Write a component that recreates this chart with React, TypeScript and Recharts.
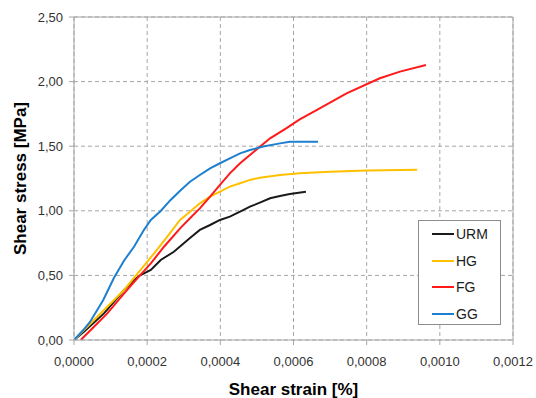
import React from 'react';
import {
  LineChart,
  Line,
  XAxis,
  YAxis,
  CartesianGrid,
  ReferenceLine,
  Legend,
} from 'recharts';

// Tick values
const strainTicks = [0, 0.0002, 0.0004, 0.0006, 0.0008, 0.001, 0.0012];
const stressTicks = [0, 0.5, 1, 1.5, 2, 2.5];

// URM
const urmStrain = [0, 0.0000273, 0.000082, 0.000137, 0.000164, 0.000182, 0.00021, 0.000237, 0.000273, 0.000317, 0.000344, 0.000372, 0.000399, 0.000426, 0.000454, 0.000481, 0.000508, 0.000536, 0.000563, 0.00059, 0.000634];
const urmStress = [0, 0.064, 0.206, 0.387, 0.464, 0.503, 0.542, 0.619, 0.683, 0.79, 0.852, 0.89, 0.929, 0.955, 0.994, 1.032, 1.063, 1.097, 1.115, 1.13, 1.148];

// HG
const hgStrain = [0, 0.0000363, 0.000082, 0.000137, 0.000182, 0.000219, 0.000255, 0.00029, 0.000317, 0.000344, 0.000372, 0.000399, 0.000426, 0.000454, 0.000481, 0.000508, 0.000563, 0.000617, 0.0007, 0.0008, 0.000938];
const hgStress = [0, 0.103, 0.232, 0.387, 0.542, 0.671, 0.8, 0.929, 0.993, 1.058, 1.11, 1.148, 1.187, 1.213, 1.239, 1.256, 1.277, 1.29, 1.303, 1.312, 1.318];

// FG
const fgStrain = [0.0000183, 0.0000546, 0.000091, 0.000137, 0.000173, 0.00021, 0.000246, 0.00029, 0.000317, 0.000344, 0.000372, 0.000399, 0.000426, 0.000454, 0.000481, 0.000508, 0.000536, 0.000581, 0.000617, 0.000663, 0.000745, 0.000836, 0.000891, 0.000962];
const fgStress = [0, 0.103, 0.206, 0.361, 0.477, 0.593, 0.722, 0.864, 0.942, 1.019, 1.11, 1.2, 1.29, 1.368, 1.432, 1.496, 1.561, 1.64, 1.708, 1.78, 1.909, 2.026, 2.077, 2.128];

// GG
const ggStrain = [0, 0.0000254, 0.0000437, 0.00008, 0.000109, 0.000137, 0.000164, 0.000191, 0.00021, 0.000237, 0.000264, 0.00029, 0.000317, 0.000344, 0.000372, 0.000399, 0.000426, 0.000454, 0.000481, 0.000517, 0.000563, 0.00059, 0.000667];
const ggStress = [0, 0.077, 0.14, 0.31, 0.48, 0.615, 0.722, 0.851, 0.929, 0.999, 1.084, 1.155, 1.225, 1.277, 1.329, 1.368, 1.406, 1.445, 1.471, 1.497, 1.522, 1.535, 1.535];

const toPoints = (xs: number[], ys: number[]) => xs.map((x, i) => ({ x, y: ys[i] }));

const series = [
  { name: 'URM', color: '#1a1a1a', data: toPoints(urmStrain, urmStress) },
  { name: 'HG', color: '#ffc000', data: toPoints(hgStrain, hgStress) },
  { name: 'FG', color: '#ff1a1a', data: toPoints(fgStrain, fgStress) },
  { name: 'GG', color: '#1f7fcf', data: toPoints(ggStrain, ggStress) },
];

const FONT = 'Arial, "Liberation Sans", sans-serif';
const GRID = '#a6a6a6';

const comma = (v: number, digits: number) => v.toFixed(digits).replace('.', ',');

// legend keeps the original series order
const LegendBox = () => (
  <div
    style={{
      border: '1px solid #8c8c8c',
      background: '#fff',
      width: 81,
      height: 103,
      fontFamily: FONT,
      fontSize: 14,
      color: '#1a1a1a',
    }}
  >
    {series.map((s) => (
      <div key={s.name} style={{ display: 'flex', alignItems: 'center', height: 26.5, paddingLeft: 13 }}>
        <span style={{ display: 'inline-block', width: 22, height: 2, background: s.color, marginRight: 2 }} />
        <span>{s.name}</span>
      </div>
    ))}
  </div>
);

const App: React.FC = () => (
  <div style={{ position: 'absolute', left: 0, top: 0, background: '#fff' }}>
    <LineChart width={536} height={398} margin={{ top: 17, right: 23, bottom: 0, left: 0 }}>
      <CartesianGrid stroke={GRID} strokeDasharray="4 3" />
      <XAxis
        type="number"
        dataKey="x"
        domain={[0, 0.0012]}
        ticks={strainTicks}
        tickFormatter={(v: number) => comma(v, 4)}
        height={58}
        tickSize={5}
        tickMargin={12}
        stroke={GRID}
        tick={{ fill: '#333', fontSize: 13, fontFamily: FONT }}
        allowDataOverflow
        label={{
          content: ({ viewBox }: any) => (
            <text
              x={viewBox.x + viewBox.width / 2}
              y={viewBox.y + 55}
              textAnchor="middle"
              fontFamily={FONT}
              fontWeight="bold"
              fontSize={17}
              fill="#000"
            >
              Shear strain [%]
            </text>
          ),
        }}
      />
      <YAxis
        type="number"
        domain={[0, 2.5]}
        ticks={stressTicks}
        tickFormatter={(v: number) => comma(v, 2)}
        width={74}
        tickSize={5}
        tickMargin={6}
        stroke={GRID}
        tick={{ fill: '#333', fontSize: 13, fontFamily: FONT }}
        allowDataOverflow
        label={{
          content: ({ viewBox }: any) => {
            const cx = 26;
            const cy = viewBox.y + viewBox.height / 2;
            return (
              <text
                x={cx}
                y={cy}
                transform={`rotate(-90, ${cx}, ${cy})`}
                textAnchor="middle"
                fontFamily={FONT}
                fontWeight="bold"
                fontSize={17}
                fill="#000"
              >
                Shear stress [MPa]
              </text>
            );
          },
        }}
      />
      <ReferenceLine y={2.5} stroke={GRID} strokeWidth={1} />
      <ReferenceLine x={0.0012} stroke={GRID} strokeWidth={1} />
      {series.map((s) => (
        <Line
          key={s.name}
          name={s.name}
          data={s.data}
          dataKey="y"
          type="linear"
          stroke={s.color}
          strokeWidth={2}
          dot={false}
          isAnimationActive={false}
        />
      ))}
      <Legend
        layout="horizontal"
        verticalAlign="middle"
        align="center"
        content={<LegendBox />}
        wrapperStyle={{ position: 'absolute', left: 418, top: 220, width: 83, height: 105 }}
      />
    </LineChart>
  </div>
);

export default App;
